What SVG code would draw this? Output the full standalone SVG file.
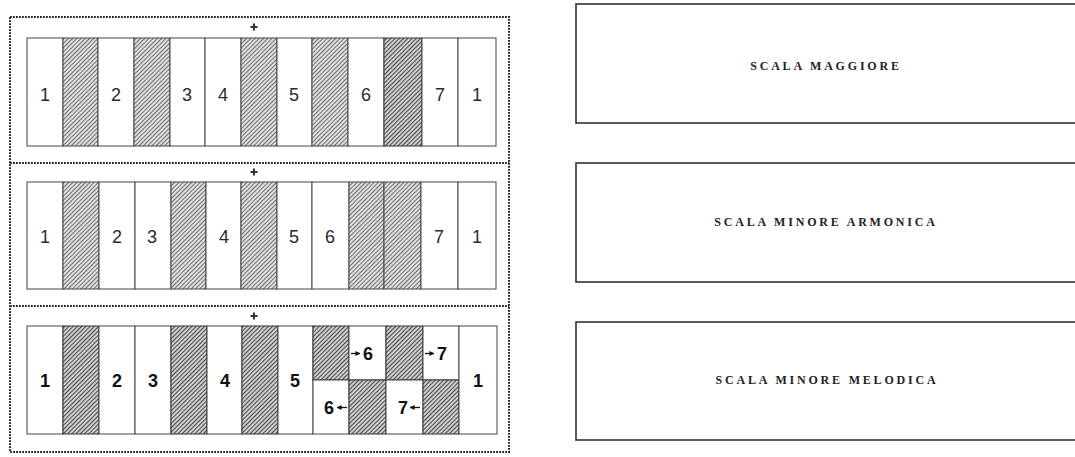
<svg xmlns="http://www.w3.org/2000/svg" width="1075" height="457" viewBox="0 0 1075 457">
  <defs>
    <pattern id="hatch" patternUnits="userSpaceOnUse" width="3" height="3" patternTransform="rotate(45)">
      <rect width="3" height="3" fill="#e2e2e2"/>
      <line x1="0.5" y1="0" x2="0.5" y2="3" stroke="#6a6a6a" stroke-width="1"/>
    </pattern>
    <pattern id="hatchDark" patternUnits="userSpaceOnUse" width="3" height="3" patternTransform="rotate(45)">
      <rect width="3" height="3" fill="#d4d4d4"/>
      <line x1="0.5" y1="0" x2="0.5" y2="3" stroke="#444" stroke-width="1.1"/>
    </pattern>
    <marker id="ah" viewBox="0 0 6 6" refX="5.5" refY="3" markerWidth="5" markerHeight="5" orient="auto" markerUnits="userSpaceOnUse">
      <path d="M0,0 L6,3 L0,6 Z" fill="#111"/>
    </marker>
  </defs>
  <style>
    .key { fill: #fff; stroke: #444; stroke-width: 1; }
    .blk { fill: url(#hatch); stroke: #444; stroke-width: 1; }
    .blkd { fill: url(#hatchDark); stroke: #333; stroke-width: 1; }
    .num { font-family: "Liberation Sans", Arial, sans-serif; font-size: 18px; fill: #2a2a2a; text-anchor: middle; }
    .numb { font-family: "Liberation Sans", Arial, sans-serif; font-size: 18px; font-weight: bold; fill: #111; text-anchor: middle; }
    .frame { fill: none; stroke: #222; stroke-width: 2; stroke-dasharray: 1.8 1.2; }
    .box { fill: #fff; stroke: #333; stroke-width: 1.6; }
    .title { font-family: "Liberation Serif", "Times New Roman", serif; font-size: 12px; font-weight: bold; letter-spacing: 2.8px; fill: #222; text-anchor: middle; }
    .mark { stroke: #333; stroke-width: 2; fill: none; }
    .arr { stroke: #111; stroke-width: 1.3; fill: none; }
  </style>
  <rect width="1075" height="457" fill="#fff"/>

  <!-- dotted frame -->
  <g id="frame">
    <rect class="frame" x="10" y="17" width="499" height="435"/>
    <line class="frame" x1="10" y1="163" x2="509" y2="163"/>
    <line class="frame" x1="10" y1="306" x2="509" y2="306"/>
  </g>

  <!-- Panel 1: scala maggiore -->
  <g id="keyboard-maggiore">
    <path class="mark" d="M254,23.5 V30.5 M250.5,27 H257.5"/>
    <rect class="key" x="27" y="38" width="36" height="108"/>
    <rect class="blk" x="63" y="38" width="35" height="108"/>
    <rect class="key" x="98" y="38" width="36" height="108"/>
    <rect class="blk" x="134" y="38" width="36" height="108"/>
    <rect class="key" x="170" y="38" width="35" height="108"/>
    <rect class="key" x="205" y="38" width="36" height="108"/>
    <rect class="blk" x="241" y="38" width="36" height="108"/>
    <rect class="key" x="277" y="38" width="35" height="108"/>
    <rect class="blk" x="312" y="38" width="36" height="108"/>
    <rect class="key" x="348" y="38" width="36" height="108"/>
    <rect class="blkd" x="384" y="38" width="38" height="108"/>
    <rect class="key" x="422" y="38" width="36" height="108"/>
    <rect class="key" x="458" y="38" width="38" height="108"/>
    <text class="num" x="45" y="101">1</text>
    <text class="num" x="116" y="101">2</text>
    <text class="num" x="187" y="101">3</text>
    <text class="num" x="223" y="101">4</text>
    <text class="num" x="294" y="101">5</text>
    <text class="num" x="366" y="101">6</text>
    <text class="num" x="440" y="101">7</text>
    <text class="num" x="477" y="101">1</text>
  </g>

  <!-- Panel 2: scala minore armonica -->
  <g id="keyboard-armonica">
    <path class="mark" d="M254,168.5 V175.5 M250.5,172 H257.5"/>
    <rect class="key" x="27" y="182" width="36" height="107"/>
    <rect class="blk" x="63" y="182" width="36" height="107"/>
    <rect class="key" x="99" y="182" width="36" height="107"/>
    <rect class="key" x="135" y="182" width="36" height="107"/>
    <rect class="blk" x="171" y="182" width="35" height="107"/>
    <rect class="key" x="206" y="182" width="35" height="107"/>
    <rect class="blk" x="241" y="182" width="36" height="107"/>
    <rect class="key" x="277" y="182" width="35" height="107"/>
    <rect class="key" x="312" y="182" width="37" height="107"/>
    <rect class="blk" x="349" y="182" width="35" height="107"/>
    <rect class="blk" x="384" y="182" width="37" height="107"/>
    <rect class="key" x="421" y="182" width="37" height="107"/>
    <rect class="key" x="458" y="182" width="38" height="107"/>
    <text class="num" x="45" y="243">1</text>
    <text class="num" x="117" y="243">2</text>
    <text class="num" x="152" y="243">3</text>
    <text class="num" x="224" y="243">4</text>
    <text class="num" x="294" y="243">5</text>
    <text class="num" x="330" y="243">6</text>
    <text class="num" x="439" y="243">7</text>
    <text class="num" x="477" y="243">1</text>
  </g>

  <!-- Panel 3: scala minore melodica -->
  <g id="keyboard-melodica">
    <path class="mark" d="M254,312.5 V319.5 M250.5,316 H257.5"/>
    <rect class="key" x="27" y="326" width="36" height="108"/>
    <rect class="blkd" x="63" y="326" width="36" height="108"/>
    <rect class="key" x="99" y="326" width="36" height="108"/>
    <rect class="key" x="135" y="326" width="36" height="108"/>
    <rect class="blkd" x="171" y="326" width="36" height="108"/>
    <rect class="key" x="207" y="326" width="35" height="108"/>
    <rect class="blkd" x="242" y="326" width="36" height="108"/>
    <rect class="key" x="278" y="326" width="35" height="108"/>
    <rect class="blkd" x="313" y="326" width="36" height="54"/>
    <rect class="key" x="313" y="380" width="36" height="54"/>
    <rect class="key" x="349" y="326" width="37" height="54"/>
    <rect class="blkd" x="349" y="380" width="37" height="54"/>
    <rect class="blkd" x="386" y="326" width="37" height="54"/>
    <rect class="key" x="386" y="380" width="37" height="54"/>
    <rect class="key" x="423" y="326" width="36" height="54"/>
    <rect class="blkd" x="423" y="380" width="36" height="54"/>
    <rect class="key" x="459" y="326" width="38" height="108"/>
    <text class="numb" x="45" y="387">1</text>
    <text class="numb" x="117" y="387">2</text>
    <text class="numb" x="153" y="387">3</text>
    <text class="numb" x="225" y="387">4</text>
    <text class="numb" x="295" y="387">5</text>
    <text class="numb" x="368" y="360">6</text>
    <text class="numb" x="442" y="360">7</text>
    <text class="numb" x="329" y="414">6</text>
    <text class="numb" x="403" y="414">7</text>
    <text class="numb" x="478" y="387">1</text>
  </g>

  <!-- small arrows -->
  <g id="connectors">
    <line class="arr" x1="351" y1="353.5" x2="360" y2="353.5" marker-end="url(#ah)"/>
    <line class="arr" x1="425" y1="353.5" x2="434" y2="353.5" marker-end="url(#ah)"/>
    <line class="arr" x1="347" y1="407.5" x2="337" y2="407.5" marker-end="url(#ah)"/>
    <line class="arr" x1="420" y1="407.5" x2="410" y2="407.5" marker-end="url(#ah)"/>
  </g>

  <!-- right-hand boxes -->
  <g id="box-maggiore">
    <rect class="box" x="576" y="4" width="510" height="119"/>
    <text class="title" x="826" y="70">SCALA MAGGIORE</text>
  </g>
  <g id="box-armonica">
    <rect class="box" x="576" y="163" width="510" height="119"/>
    <text class="title" x="826" y="226">SCALA MINORE ARMONICA</text>
  </g>
  <g id="box-melodica">
    <rect class="box" x="576" y="322" width="510" height="118"/>
    <text class="title" x="827" y="384">SCALA MINORE MELODICA</text>
  </g>
</svg>
